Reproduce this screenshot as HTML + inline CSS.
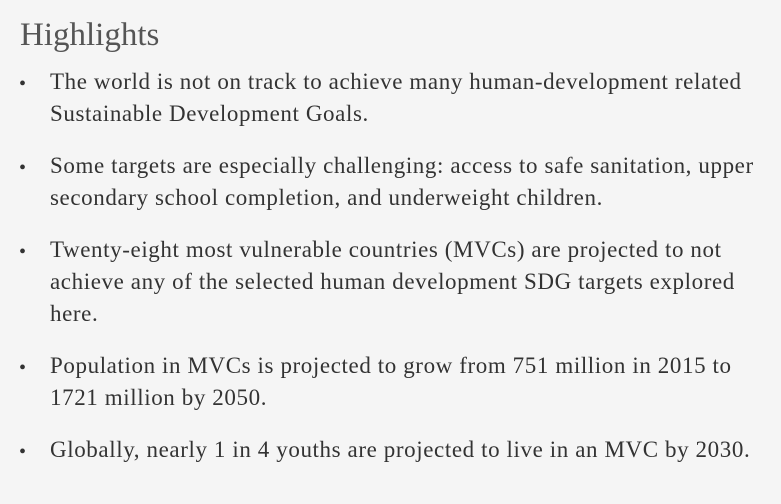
<!DOCTYPE html>
<html>
<head>
<meta charset="utf-8">
<style>
  html, body { margin:0; padding:0; }
  body { width:781px; height:504px; background:#f5f5f5; position:relative; overflow:hidden;
         font-family:"Liberation Serif", serif; color:#333; }
  .h { position:absolute; left:20px; top:15px; font-size:33px; color:#555; line-height:40px; white-space:nowrap; }
  .l { position:absolute; left:50px; font-size:23px; letter-spacing:0.6px; line-height:32px; white-space:nowrap; }
  .b { position:absolute; left:19px; font-size:20px; line-height:32px; }
</style>
</head>
<body>
  <div class="h">Highlights</div>

  <div>
    <div class="b" style="top:68px">•</div>
    <div class="l" style="top:66px">The world is not on track to achieve many human-development related</div>
    <div class="l" style="top:98px">Sustainable Development Goals.</div>
  </div>

  <div>
    <div class="b" style="top:152px">•</div>
    <div class="l" style="top:150px">Some targets are especially challenging: access to safe sanitation, upper</div>
    <div class="l" style="top:182px">secondary school completion, and underweight children.</div>
  </div>

  <div>
    <div class="b" style="top:236px">•</div>
    <div class="l" style="top:234px">Twenty-eight most vulnerable countries (MVCs) are projected to not</div>
    <div class="l" style="top:266px">achieve any of the selected human development SDG targets explored</div>
    <div class="l" style="top:298px">here.</div>
  </div>

  <div>
    <div class="b" style="top:352px">•</div>
    <div class="l" style="top:350px">Population in MVCs is projected to grow from 751 million in 2015 to</div>
    <div class="l" style="top:382px">1721 million by 2050.</div>
  </div>

  <div>
    <div class="b" style="top:436px">•</div>
    <div class="l" style="top:434px">Globally, nearly 1 in 4 youths are projected to live in an MVC by 2030.</div>
  </div>
</body>
</html>
